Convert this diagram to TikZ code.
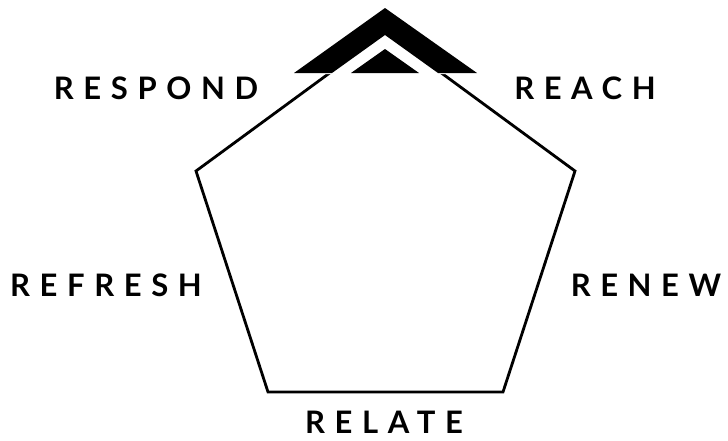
\documentclass[tikz,border=0pt]{standalone}
\usepackage{fontspec}
\setmainfont{Lato}[LetterSpace=31]
\begin{document}
\begin{tikzpicture}[x=1pt,y=-1pt,
  lbl/.style={font=\fontsize{31}{33}\selectfont\bfseries, inner sep=0pt, anchor=center},
  edge/.style={line width=2.8pt, line join=miter}]
\useasboundingbox (0,0) rectangle (728,440);
% pentagon vertices
\coordinate (pt) at (385.5,32);
\coordinate (pl) at (196,171);
\coordinate (pr) at (575,171);
\coordinate (pbl) at (268,392);
\coordinate (pbr) at (503,392);
\draw[edge] (pt) -- (pr) -- (pbr) -- (pbl) -- (pl) -- cycle;
% white mask under the chevron
\fill[white] (385,6) -- (292,74) -- (479,74) -- cycle;
% chevron
\fill[black] (385,8) -- (294,73) -- (332,73) -- (385,35) -- (438,73) -- (477,73) -- cycle;
% small triangle
\fill[black] (385,49) -- (351,73) -- (419,73) -- cycle;
% labels
\node[lbl] (respond) at (156,88) {RESPOND};
\node[lbl] (reach) at (585,88) {REACH};
\node[lbl] (refresh) at (106,285) {REFRESH};
\node[lbl] (renew) at (646,285) {RENEW};
\node[lbl] (relate) at (384,422) {RELATE};
\end{tikzpicture}
\end{document}
